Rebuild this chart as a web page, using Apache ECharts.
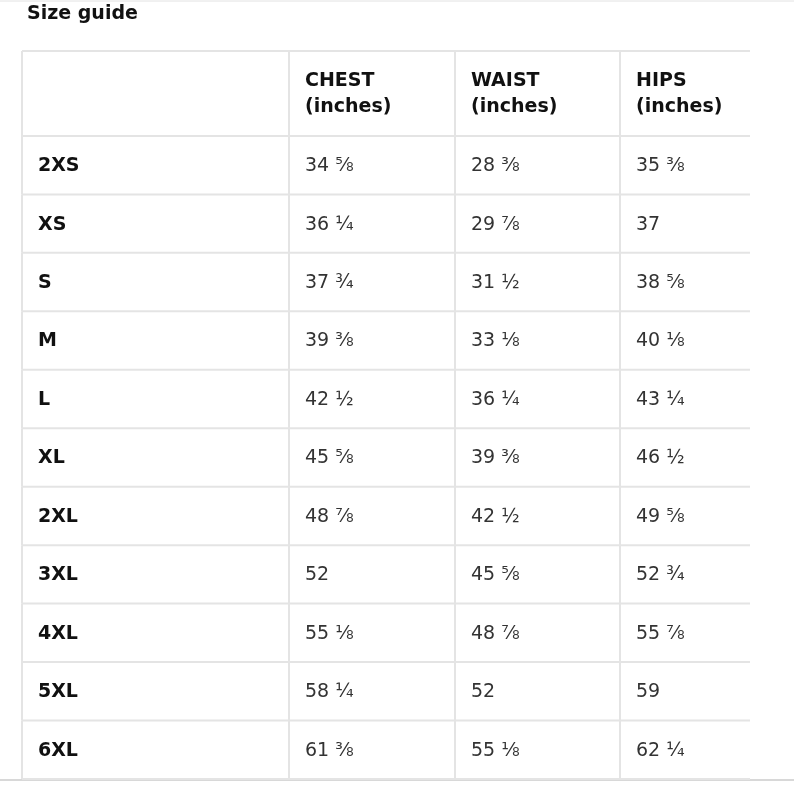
<!DOCTYPE html>
<html>
<head>
<meta charset="UTF-8">
<title>Size guide</title>
<script src="https://cdn.jsdelivr.net/npm/echarts@6/dist/echarts.min.js"></script>
<style>body{margin:0;background:#fff}</style>
</head>
<body>
<div id="chart" style="width:794px;height:785px;"></div>
<script>
var sizes = ['2XS', 'XS', 'S', 'M', 'L', 'XL', '2XL', '3XL', '4XL', '5XL', '6XL'];
var headers = ['', 'CHEST\n(inches)', 'WAIST\n(inches)', 'HIPS\n(inches)'];
var chest = ['34 ⅝', '36 ¼', '37 ¾', '39 ⅜', '42 ½', '45 ⅝', '48 ⅞', '52', '55 ⅛', '58 ¼', '61 ⅜'];
var waist = ['28 ⅜', '29 ⅞', '31 ½', '33 ⅛', '36 ¼', '39 ⅜', '42 ½', '45 ⅝', '48 ⅞', '52', '55 ⅛'];
var hips = ['35 ⅜', '37', '38 ⅝', '40 ⅛', '43 ¼', '46 ½', '49 ⅝', '52 ¾', '55 ⅞', '59', '62 ¼'];

// layout (axis units = px inside grid)
var colEdges = [0, 267, 433, 598, 728];
var headerH = 85, rowH = 58.5;
function rowTop(r) { return r === 0 ? 0 : headerH + (r - 1) * rowH; }
function rowBot(r) { return r === 0 ? headerH : headerH + r * rowH; }

var cells = [];
headers.forEach(function (h, c) { cells.push([c, 0, h]); });
sizes.forEach(function (s, i) {
    cells.push([0, i + 1, s]);
    cells.push([1, i + 1, chest[i]]);
    cells.push([2, i + 1, waist[i]]);
    cells.push([3, i + 1, hips[i]]);
});

var chart = echarts.init(document.getElementById('chart'));
chart.setOption({
    animation: false,
    title: { text: 'Size guide', left: 22, top: 0, textStyle: { fontFamily: 'DejaVu Sans', fontSize: 19, fontWeight: 'bold', color: '#111' } },
    grid: { left: 22, right: 44, top: 51, bottom: 6 },
    xAxis: { type: 'value', min: 0, max: 728, show: false },
    yAxis: { type: 'value', min: 0, max: 728.5, inverse: true, show: false },
    graphic: [
        { type: 'line', shape: { x1: 0, y1: 1, x2: 794, y2: 1 }, style: { stroke: '#e2e2e2', lineWidth: 1 } },
        { type: 'line', shape: { x1: 0, y1: 780, x2: 794, y2: 780 }, style: { stroke: '#d8d8d8', lineWidth: 2 } }
    ],
    series: [{
        type: 'custom',
        data: cells,
        renderItem: function (params, api) {
            var c = api.value(0), r = api.value(1);
            var text = cells[params.dataIndex][2];
            var p0 = api.coord([colEdges[c], rowTop(r)]);
            var p1 = api.coord([colEdges[c + 1], rowBot(r)]);
            var bold = r === 0 || c === 0;
            var children = [
                { type: 'line', shape: { x1: p0[0], y1: p1[1], x2: p1[0], y2: p1[1] }, style: { stroke: '#e4e4e4', lineWidth: 2 } }
            ];
            if (c < 3) children.push({ type: 'line', shape: { x1: p1[0], y1: p0[1], x2: p1[0], y2: p1[1] }, style: { stroke: '#e4e4e4', lineWidth: 2 } });
            if (c === 0) children.push({ type: 'line', shape: { x1: p0[0], y1: p0[1], x2: p0[0], y2: p1[1] }, style: { stroke: '#e4e4e4', lineWidth: 2 } });
            if (r === 0) children.push({ type: 'line', shape: { x1: p0[0], y1: p0[1], x2: p1[0], y2: p0[1] }, style: { stroke: '#e4e4e4', lineWidth: 2 } });
            children.push({
                type: 'text',
                style: {
                    x: p0[0] + 16, y: (p0[1] + p1[1]) / 2 + 1,
                    text: text, verticalAlign: 'middle', align: 'left',
                    font: (bold ? 'bold ' : '') + '19px "DejaVu Sans"',
                    fill: bold ? '#111' : '#333', lineHeight: 26
                }
            });
            return { type: 'group', children: children };
        }
    }]
});
</script>
</body>
</html>
